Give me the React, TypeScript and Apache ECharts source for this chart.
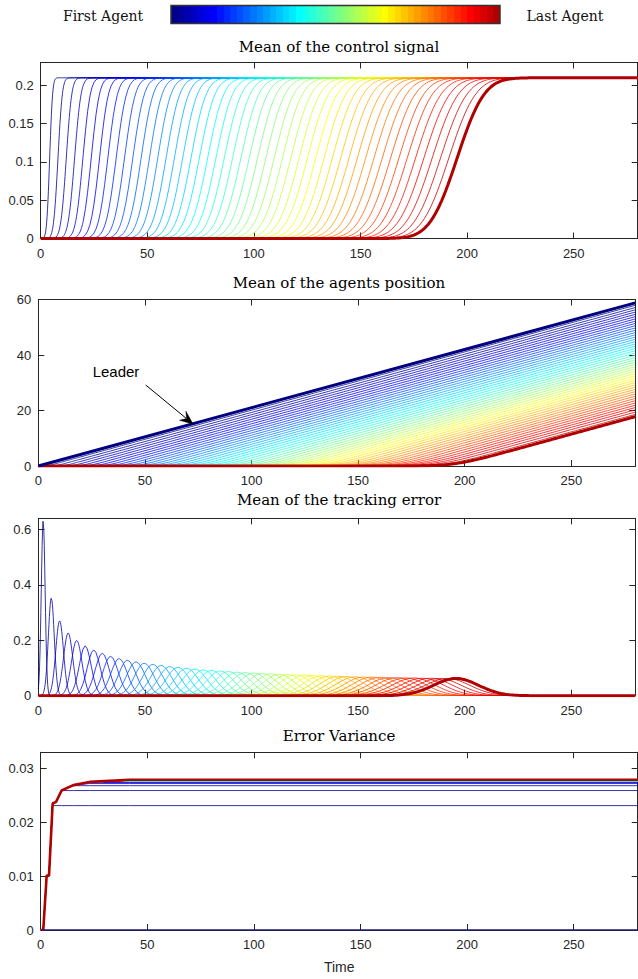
import React, { useEffect, useRef } from "react";
import * as echarts from "echarts";

// ---------------- data ----------------
const N_AGENTS = 50;
const X_MAX = 280;
const X_TICK_STEP = 50;
const CTRL_LEVEL = 0.21; // steady control signal (= leader speed)

// control signal: time at which each agent's signal is half way up, and rise spread
const CTRL_MID = [
  4.2, 8.1, 12.0, 15.9, 19.8, 23.7, 27.6, 31.5, 35.4, 39.3,
  43.2, 47.1, 51.0, 54.9, 58.8, 62.7, 66.6, 70.5, 74.4, 78.3,
  82.2, 86.1, 90.0, 93.9, 97.8, 101.7, 105.6, 109.5, 113.4, 117.3,
  121.2, 125.1, 129.0, 132.9, 136.8, 140.7, 144.6, 148.5, 152.4, 156.3,
  160.2, 164.1, 168.0, 171.9, 175.8, 179.7, 183.6, 187.5, 191.4, 195.3,
];
const CTRL_SD = [
  1.1, 1.63, 2.05, 2.41, 2.73, 3.03, 3.3, 3.56, 3.81, 4.04,
  4.26, 4.48, 4.69, 4.89, 5.08, 5.27, 5.45, 5.63, 5.81, 5.98,
  6.14, 6.31, 6.47, 6.63, 6.78, 6.93, 7.08, 7.23, 7.37, 7.52,
  7.66, 7.79, 7.93, 8.07, 8.2, 8.33, 8.46, 8.59, 8.72, 8.84,
  8.97, 9.09, 9.21, 9.33, 9.45, 9.57, 9.69, 9.8, 9.92, 10.03,
];

// tracking error bumps: time of peak, peak height, spread
const ERR_MID = [
  2.3, 6.1, 10.0, 14.0, 18.0, 22.0, 26.0, 30.0, 33.9, 37.9,
  41.8, 45.8, 49.7, 53.7, 57.6, 61.6, 65.5, 69.5, 73.4, 77.4,
  81.3, 85.3, 89.2, 93.2, 97.1, 101.1, 105.0, 109.0, 112.9, 116.9,
  120.8, 124.8, 128.7, 132.7, 136.6, 140.6, 144.5, 148.5, 152.4, 156.4,
  160.3, 164.3, 168.2, 172.2, 176.1, 180.1, 184.0, 188.0, 191.9, 195.9,
];
const ERR_PEAK = [
  0.633, 0.352, 0.27, 0.226, 0.199, 0.18, 0.165, 0.153, 0.142, 0.134,
  0.128, 0.122, 0.117, 0.113, 0.109, 0.105, 0.102, 0.099, 0.096, 0.093,
  0.091, 0.089, 0.087, 0.085, 0.083, 0.082, 0.08, 0.079, 0.077, 0.076,
  0.075, 0.074, 0.073, 0.072, 0.071, 0.07, 0.069, 0.068, 0.067, 0.067,
  0.066, 0.065, 0.065, 0.064, 0.064, 0.063, 0.063, 0.062, 0.062, 0.062,
];
const ERR_SD = [
  0.9, 1.39, 1.8, 2.16, 2.48, 2.78, 3.07, 3.34, 3.59, 3.84,
  4.08, 4.31, 4.53, 4.75, 4.96, 5.16, 5.36, 5.56, 5.75, 5.94,
  6.13, 6.31, 6.49, 6.66, 6.84, 7.01, 7.18, 7.34, 7.51, 7.67,
  7.83, 7.99, 8.15, 8.3, 8.45, 8.6, 8.75, 8.9, 9.05, 9.2,
  9.34, 9.48, 9.62, 9.76, 9.9, 10.04, 10.18, 10.31, 10.45, 10.58,
];

// error variance: common transient, then each agent settles at its own level
const VAR_T = [0, 1.2, 2.8, 3.9, 5.6, 7.2, 9.8, 15.3, 23, 41.7, 280];
const VAR_ENV = [0, 0, 0.0101, 0.0101, 0.0235, 0.0238, 0.0259, 0.0269, 0.0275, 0.0279, 0.0279];
const VAR_FINAL = [
  0.0231, 0.0259, 0.0268, 0.0272, 0.0274, 0.0275, 0.0276, 0.0276, 0.0276, 0.0277,
  0.0277, 0.0277, 0.0277, 0.0277, 0.0277, 0.0277, 0.0277, 0.0277, 0.0277, 0.0277,
  0.0277, 0.0277, 0.0277, 0.0277, 0.0277, 0.0278, 0.0278, 0.0278, 0.0278, 0.0278,
  0.0278, 0.0278, 0.0278, 0.0278, 0.0278, 0.0278, 0.0278, 0.0278, 0.0278, 0.0278,
  0.0278, 0.0278, 0.0278, 0.0278, 0.0278, 0.0278, 0.0278, 0.0278, 0.0278, 0.0279,
];

const Y_MAX = [0.23, 60, 0.64, 0.033];
const Y_STEP = [0.05, 20, 0.2, 0.01];
const TITLES = [
  "Mean of the control signal",
  "Mean of the agents position",
  "Mean of the tracking error",
  "Error Variance",
];

// ---------------- helpers ----------------
function jet(m: number): string[] {
  const n = Math.ceil(m / 4);
  const u: number[] = [];
  for (let i = 1; i <= n; i++) u.push(i / n);
  for (let i = 0; i < n - 1; i++) u.push(1);
  for (let i = n; i >= 1; i--) u.push(i / n);
  const off = Math.ceil(n / 2) - (m % 4 === 1 ? 1 : 0);
  const J = Array.from({ length: m }, () => [0, 0, 0]);
  for (let i = 0; i < u.length; i++) {
    const g = off + i + 1;
    const r = g + n;
    const b = g - n;
    if (g >= 1 && g <= m) J[g - 1][1] = u[i];
    if (r >= 1 && r <= m) J[r - 1][0] = u[i];
    if (b >= 1 && b <= m) J[b - 1][2] = u[i];
  }
  return J.map(
    ([r, g, b]) => `rgb(${Math.round(r * 255)},${Math.round(g * 255)},${Math.round(b * 255)})`
  );
}

function erf(x: number) {
  const s = Math.sign(x);
  const a = Math.abs(x);
  const t = 1 / (1 + 0.3275911 * a);
  const y =
    1 -
    ((((1.061405429 * t - 1.453152027) * t + 1.421413741) * t - 0.284496736) * t + 0.254829592) *
      t *
      Math.exp(-a * a);
  return s * y;
}
const Phi = (z: number) => 0.5 * (1 + erf(z / Math.SQRT2));
const phi = (z: number) => Math.exp(-z * z / 2) / Math.sqrt(2 * Math.PI);

const T: number[] = [];
for (let i = 0; i <= 100; i++) T.push(+(i * 0.2).toFixed(2));
for (let t = 21; t <= X_MAX; t++) T.push(t);

const AX = "#262626";
const SANS = '"Liberation Sans", Arial, Helvetica, sans-serif';
const SERIF = '"DejaVu Serif", "Liberation Serif", serif';

const GRIDS = [
  { left: 40.7, top: 62.5, width: 597, height: 176 },
  { left: 38.3, top: 299.5, width: 597, height: 166.5 },
  { left: 38.3, top: 518.3, width: 597, height: 177.4 },
  { left: 40.7, top: 752.3, width: 597, height: 177.7 },
];

function buildOption() {
  const colors = jet(N_AGENTS);
  const series: any[] = [];
  const line = (gi: number, data: number[][], color: string, width: number, z = 2) => ({
    type: "line",
    xAxisIndex: gi,
    yAxisIndex: gi,
    data,
    showSymbol: false,
    symbol: "none",
    silent: true,
    animation: false,
    clip: true,
    z,
    lineStyle: { color, width },
    itemStyle: { color },
  });

  for (let k = 0; k < N_AGENTS; k++) {
    const last = k === N_AGENTS - 1;
    const w = last ? 3 : 0.8;
    const z = last ? 4 : 2;
    // panel 1 control
    series.push(
      line(0, T.map((t) => [t, CTRL_LEVEL * Phi((t - CTRL_MID[k]) / CTRL_SD[k])]), colors[k], w, z)
    );
    // panel 2 position
    series.push(
      line(
        1,
        T.map((t) => {
          const z0 = (t - CTRL_MID[k]) / CTRL_SD[k];
          return [t, CTRL_LEVEL * ((t - CTRL_MID[k]) * Phi(z0) + CTRL_SD[k] * phi(z0))];
        }),
        colors[k],
        w,
        z
      )
    );
    // panel 3 tracking error
    series.push(
      line(
        2,
        T.map((t) => {
          const z0 = (t - ERR_MID[k]) / ERR_SD[k];
          return [t, ERR_PEAK[k] * Math.exp(-z0 * z0 / 2)];
        }),
        colors[k],
        w,
        z
      )
    );
    // panel 4 variance
    series.push(
      line(3, VAR_T.map((t, i) => [t, Math.min(VAR_ENV[i], VAR_FINAL[k])]), colors[k], last ? 2.6 : 0.8, z)
    );
  }
  // leader
  series.push(line(1, [[0, 0], [X_MAX, CTRL_LEVEL * X_MAX]], "#000080", 3, 5));
  series.push(line(3, [[0, 0], [X_MAX, 0]], "#1a1a80", 1.6, 5));

  const xAxis: any[] = [];
  const yAxis: any[] = [];
  for (let pos = 0; pos < 2; pos++) {
    for (let gi = 0; gi < 4; gi++) {
      xAxis.push({
        type: "value",
        gridIndex: gi,
        min: 0,
        max: X_MAX,
        interval: X_TICK_STEP,
        position: pos === 0 ? "bottom" : "top",
        axisLine: { show: true, onZero: false, lineStyle: { color: AX, width: 1 } },
        axisTick: { show: true, inside: true, length: 6, lineStyle: { color: AX, width: 1 } },
        axisLabel: {
          show: pos === 0,
          color: AX,
          fontSize: 13,
          fontFamily: SANS,
          margin: 8,
          showMaxLabel: false,
        },
        splitLine: { show: false },
        name: pos === 0 && gi === 3 ? "Time" : "",
        nameLocation: "middle",
        nameGap: 30,
        nameTextStyle: { color: AX, fontSize: 14, fontFamily: SANS },
      });
      yAxis.push({
        type: "value",
        gridIndex: gi,
        min: 0,
        max: Y_MAX[gi],
        interval: Y_STEP[gi],
        position: pos === 0 ? "left" : "right",
        axisLine: { show: true, onZero: false, lineStyle: { color: AX, width: 1 } },
        axisTick: { show: true, inside: true, length: 6, lineStyle: { color: AX, width: 1 } },
        axisLabel: {
          show: pos === 0,
          color: AX,
          fontSize: 13,
          fontFamily: SANS,
          margin: 7,
          showMaxLabel: gi === 1,
        },
        splitLine: { show: false },
      });
    }
  }

  const colors50 = colors;
  const stops: any[] = [];
  colors50.forEach((c, i) => {
    stops.push({ offset: i / N_AGENTS, color: c });
    stops.push({ offset: (i + 1) / N_AGENTS, color: c });
  });

  const titleY = [46.5, 283, 500, 735.5];
  const graphic: any[] = [
    {
      type: "rect",
      shape: { x: 171, y: 5.5, width: 329, height: 18 },
      style: {
        fill: new echarts.graphic.LinearGradient(0, 0, 1, 0, stops),
        stroke: "#333",
        lineWidth: 1.5,
      },
      silent: true,
    },
    {
      type: "text",
      x: 103,
      y: 16,
      style: {
        text: "First Agent",
        font: `14px ${SERIF}`,
        fill: "#111",
        align: "center",
        verticalAlign: "middle",
        textAlign: "center",
        textVerticalAlign: "middle",
      },
    },
    {
      type: "text",
      x: 565,
      y: 16,
      style: {
        text: "Last Agent",
        font: `14px ${SERIF}`,
        fill: "#111",
        align: "center",
        verticalAlign: "middle",
        textAlign: "center",
        textVerticalAlign: "middle",
      },
    },
    ...TITLES.map((t, i) => ({
      type: "text",
      x: 339,
      y: titleY[i],
      style: {
        text: t,
        font: `15px ${SERIF}`,
        fill: "#000",
        align: "center",
        verticalAlign: "middle",
        textAlign: "center",
        textVerticalAlign: "middle",
      },
    })),
    {
      type: "text",
      x: 116,
      y: 371,
      style: {
        text: "Leader",
        font: `15px ${SANS}`,
        fill: "#000",
        align: "center",
        verticalAlign: "middle",
        textAlign: "center",
        textVerticalAlign: "middle",
      },
    },
    {
      type: "line",
      shape: { x1: 145.7, y1: 385, x2: 186, y2: 418.2 },
      style: { stroke: "#000", lineWidth: 1 },
      z: 10,
    },
    {
      type: "polygon",
      shape: {
        points: [
          [193, 424],
          [179.5, 420.3],
          [186.6, 418.5],
          [185.9, 411.2],
        ],
      },
      style: { fill: "#000", stroke: "#000", lineWidth: 0.5 },
      z: 10,
    },
  ];

  return {
    animation: false,
    backgroundColor: "#fff",
    grid: GRIDS.map((g) => ({ ...g, containLabel: false })),
    xAxis,
    yAxis,
    series,
    graphic,
  };
}

export default function App() {
  const ref = useRef<HTMLDivElement>(null);
  useEffect(() => {
    if (!ref.current) return;
    const chart = echarts.init(ref.current, undefined, { renderer: "svg" });
    chart.setOption(buildOption() as any);
    return () => chart.dispose();
  }, []);
  return (
    <div
      ref={ref}
      style={{ position: "fixed", left: 0, top: 0, width: 638, height: 979, background: "#fff" }}
    />
  );
}
